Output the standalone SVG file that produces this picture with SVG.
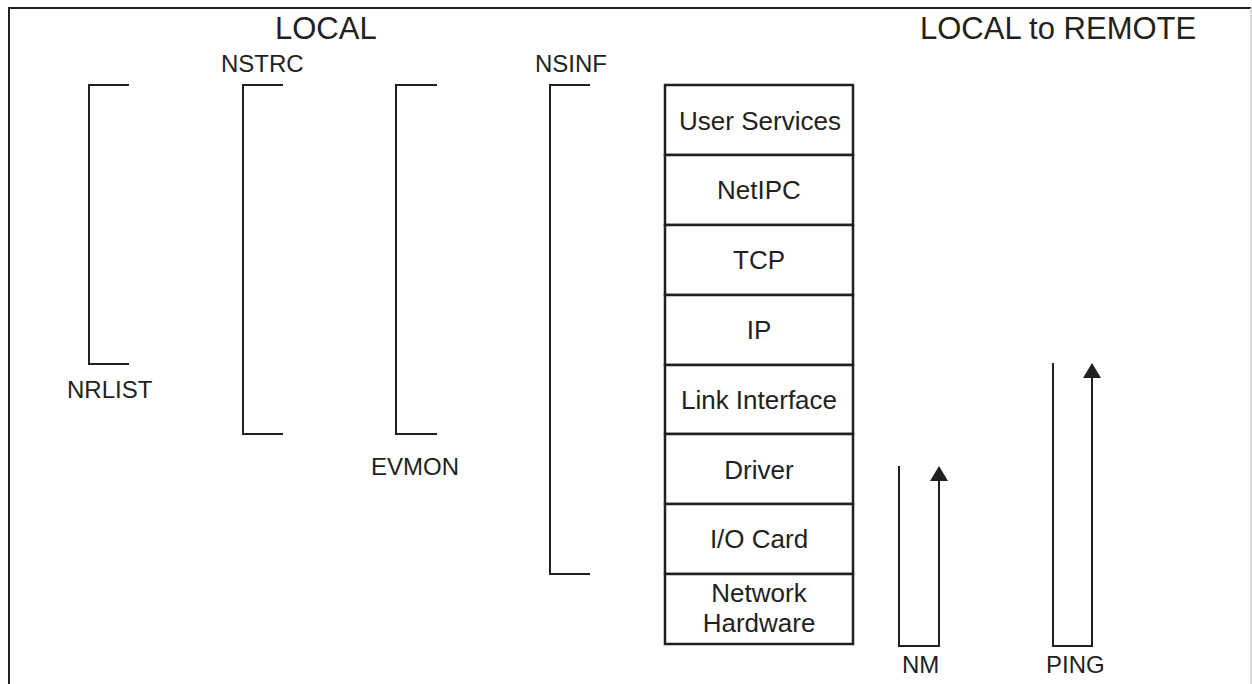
<svg xmlns="http://www.w3.org/2000/svg" width="1252" height="684" viewBox="0 0 1252 684">
  <defs>
    <style>
      .ln { fill: none; stroke: #231f20; stroke-width: 2; }
      .box { fill: #ffffff; stroke: #231f20; stroke-width: 2.5; }
      text { font-family: "Liberation Sans", Arial, sans-serif; fill: #231f20; }
      .title { font-size: 31px; }
      .lbl { font-size: 24px; }
      .layer { font-size: 26px; text-anchor: middle; }
    </style>
    <!-- solid triangular head, drawn along +x so orient="auto" follows the line -->
    <marker id="arrow" markerWidth="15" markerHeight="18" refX="0" refY="9" orient="auto" markerUnits="userSpaceOnUse" viewBox="0 0 15 18">
      <path d="M0,0 L15,9 L0,18 Z" fill="#231f20"/>
    </marker>
  </defs>

  <rect width="1252" height="684" fill="#ffffff"/>

  <!-- outer frame (open at the bottom) -->
  <g id="frame">
    <path d="M9,684 V8 H1251" class="ln" stroke-width="2.5"/>
    <line x1="1251" y1="8" x2="1251" y2="684" stroke="#d0d0d0" stroke-width="1.5"/>
  </g>

  <!-- section headings -->
  <g id="headings">
    <text class="title" x="275" y="39">LOCAL</text>
    <text class="title" x="920" y="39">LOCAL to REMOTE</text>
  </g>

  <!-- local tool ranges -->
  <g id="nrlist">
    <path class="ln" d="M129,85 H89 V364 H129"/>
    <text class="lbl" x="67" y="398">NRLIST</text>
  </g>
  <g id="nstrc">
    <path class="ln" d="M283,85 H243 V434 H283"/>
    <text class="lbl" x="221" y="72">NSTRC</text>
  </g>
  <g id="evmon">
    <path class="ln" d="M437,85 H396 V434 H437"/>
    <text class="lbl" x="371" y="475">EVMON</text>
  </g>
  <g id="nsinf">
    <path class="ln" d="M590,85 H550 V574 H590"/>
    <text class="lbl" x="535" y="72">NSINF</text>
  </g>

  <!-- protocol stack -->
  <g id="stack">
    <g id="user-services">
      <rect class="box" x="665" y="85" width="188" height="70"/>
      <text class="layer" x="760" y="130">User Services</text>
    </g>
    <g id="netipc">
      <rect class="box" x="665" y="155" width="188" height="70"/>
      <text class="layer" x="759" y="199">NetIPC</text>
    </g>
    <g id="tcp">
      <rect class="box" x="665" y="225" width="188" height="70"/>
      <text class="layer" x="759" y="269">TCP</text>
    </g>
    <g id="ip">
      <rect class="box" x="665" y="295" width="188" height="70"/>
      <text class="layer" x="759" y="339">IP</text>
    </g>
    <g id="link-interface">
      <rect class="box" x="665" y="365" width="188" height="69"/>
      <text class="layer" x="759" y="409">Link Interface</text>
    </g>
    <g id="driver">
      <rect class="box" x="665" y="434" width="188" height="70"/>
      <text class="layer" x="759" y="479">Driver</text>
    </g>
    <g id="io-card">
      <rect class="box" x="665" y="504" width="188" height="70"/>
      <text class="layer" x="759" y="548">I/O Card</text>
    </g>
    <g id="network-hardware">
      <rect class="box" x="665" y="574" width="188" height="70"/>
      <text class="layer" x="759" y="602">Network</text>
      <text class="layer" x="759" y="632">Hardware</text>
    </g>
  </g>

  <!-- local-to-remote round trips -->
  <g id="connectors">
    <path class="ln" d="M899,466 V646 H939 V481" marker-end="url(#arrow)"/>
    <path class="ln" d="M1053,363 V646 H1092 V378" marker-end="url(#arrow)"/>
  </g>
  <g id="nm">
    <text class="lbl" x="902" y="673">NM</text>
  </g>
  <g id="ping">
    <text class="lbl" x="1046" y="673">PING</text>
  </g>
</svg>
